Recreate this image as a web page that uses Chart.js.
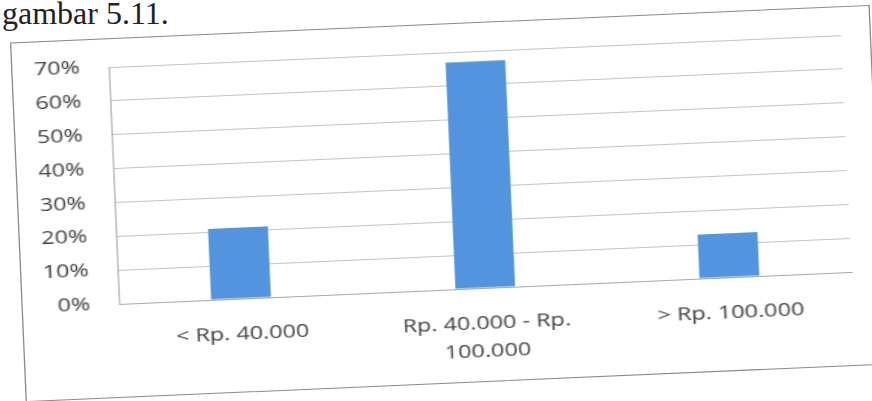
<!DOCTYPE html>
<html>
<head>
<meta charset="utf-8">
<script src="https://cdn.jsdelivr.net/npm/chart.js@4/dist/chart.umd.min.js"></script>
<style>
    html, body { margin: 0; padding: 0; background: #fff; }
    body { width: 872px; height: 401px; overflow: hidden; position: relative; }
    #caption {
        position: absolute; left: 2px; top: -3px;
        font-family: "Liberation Serif", serif; font-size: 32px; line-height: 32px;
        color: #222;
    }
    /* the chart was pasted stretched and sits a little askew on the page */
    #sheet {
        position: absolute; left: 100.5px; top: 0; width: 671px; height: 401px;
        transform-origin: 50% 50%;
        transform: rotate(-2.5deg) scaleX(1.3);
    }
    #frame {
        position: absolute; left: 13px; top: 24px; width: 662px; height: 360px;
        border: 1.5px solid #8a8a8a; box-sizing: border-box;
    }
    #chartBox { position: absolute; left: 0; top: 0; width: 671px; height: 401px; }
</style>
</head>
<body>
<div id="caption">gambar 5.11.</div>
<div id="sheet">
    <div id="frame"></div>
    <div id="chartBox"><canvas id="spendChart" width="671" height="401"></canvas></div>
</div>
<script>
const categories = ["< Rp. 40.000", ["Rp. 40.000 - Rp.", "100.000"], "> Rp. 100.000"];
const shares = [21, 67, 13];
const yMax = 70;
const yStep = 10;

const labelFont = { family: "'Open Sans', sans-serif", size: 18 };
const labelColor = "#404040";

const ctx = document.getElementById("spendChart").getContext("2d");
new Chart(ctx, {
    type: 'bar',
    data: {
        labels: categories,
        datasets: [{
            data: shares,
            backgroundColor: '#5294dd',
            borderWidth: 0,
            barPercentage: 0.245,
            categoryPercentage: 1
        }]
    },
    options: {
        responsive: false,
        animation: false,
        layout: { padding: { left: 0, top: 53, right: 19, bottom: 0 } },
        plugins: {
            legend: { display: false },
            tooltip: { enabled: false }
        },
        scales: {
            x: {
                grid: { display: false, drawTicks: false },
                border: { display: true, color: '#a8a8a8', width: 1 },
                ticks: {
                    font: Object.assign({ lineHeight: 1.55 }, labelFont),
                    color: labelColor,
                    padding: 22,
                    maxRotation: 0,
                    autoSkip: false
                },
                afterFit: (scale) => { scale.height = 111; }
            },
            y: {
                min: 0,
                max: yMax,
                grid: { color: '#c4c4c4', lineWidth: 1, drawTicks: false },
                border: { display: true, color: '#a8a8a8', width: 1 },
                ticks: {
                    stepSize: yStep,
                    font: labelFont,
                    color: labelColor,
                    padding: 22,
                    callback: (v) => v + '%'
                },
                afterFit: (scale) => { scale.width = 88; }
            }
        }
    }
});
</script>
</body>
</html>
